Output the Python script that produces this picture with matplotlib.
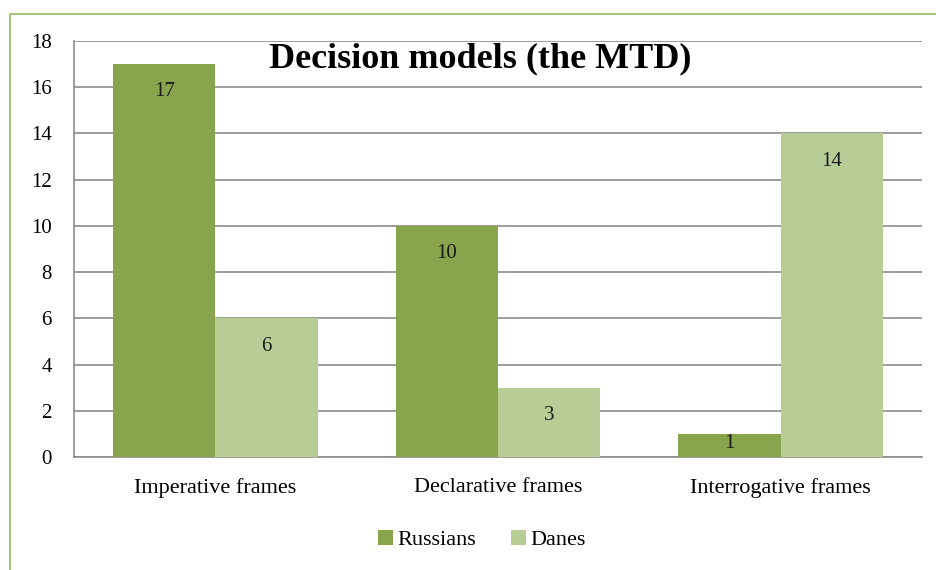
import numpy as np
import matplotlib
matplotlib.use("Agg")
import matplotlib.pyplot as plt
from matplotlib.patches import Rectangle

# data
categories = ["Imperative frames", "Declarative frames", "Interrogative frames"]
series_names = ["Russians", "Danes"]
russians = [17, 10, 1]
danes = [6, 3, 14]
yticks = [0, 2, 4, 6, 8, 10, 12, 14, 16, 18]

DARK = "#88A44C"
LIGHT = "#B8CD95"
GRID = "#8C8C8C"

plt.rcParams["font.family"] = ["Liberation Serif", "DejaVu Serif"]

fig = plt.figure(figsize=(9.36, 5.70), dpi=100)
W, H = 936.0, 570.0

# outer green frame of the chart
fig.patches.append(Rectangle((10 / W, -0.05), 1.0, 1 - 14 / H + 0.05, transform=fig.transFigure,
                             fill=False, edgecolor="#A9C47F", linewidth=1.5, zorder=0))

ax = fig.add_axes([74 / W, 1 - 457 / H, 848 / W, 416 / H])
x = np.arange(len(categories))
bw = 0.362
b1 = ax.bar(x - bw / 2, russians, bw, color=DARK, zorder=3, label=series_names[0])
b2 = ax.bar(x + bw / 2, danes, bw, color=LIGHT, zorder=3, label=series_names[1])

for bars, vals in [(b1, russians), (b2, danes)]:
	for rect, v in zip(bars, vals):
		ypos = max(v - 1.2, 0.6)  # label sits inside the bar end, clamped for short bars
		ax.text(rect.get_x() + rect.get_width() / 2, ypos, str(v), ha="center", va="center",
		        fontsize=15, color="#1a1a1a", zorder=4)

ax.set_xlim(-0.5, 2.5)
ax.set_ylim(0, 18)
ax.set_yticks(yticks)
ax.set_yticklabels([str(t) for t in yticks], fontsize=15)
ax.set_xticks(x)
ax.set_xticklabels(categories, fontsize=16)
ax.tick_params(axis="both", length=0)
ax.tick_params(axis="y", pad=16)
ax.tick_params(axis="x", pad=15)
ax.yaxis.grid(True, color=GRID, linewidth=1.2, zorder=0)
ax.set_axisbelow(True)
for s in ["top", "right"]:
	ax.spines[s].set_visible(False)
ax.spines["left"].set_color(GRID)
ax.spines["bottom"].set_color(GRID)
ax.spines["left"].set_linewidth(1.2)
ax.spines["bottom"].set_linewidth(1.2)

fig.text(480 / W, 1 - 59 / H, "Decision models (the MTD)", ha="center", va="center",
         fontsize=26, fontweight="bold")

fig.legend(handles=[b1, b2], labels=series_names, loc="center", bbox_to_anchor=(482 / W, 1 - 540 / H),
           ncol=2, frameon=False, fontsize=16, handlelength=0.65, handleheight=0.65,
           handletextpad=0.2, columnspacing=1.6)

fig.savefig("out.png", dpi=100)
